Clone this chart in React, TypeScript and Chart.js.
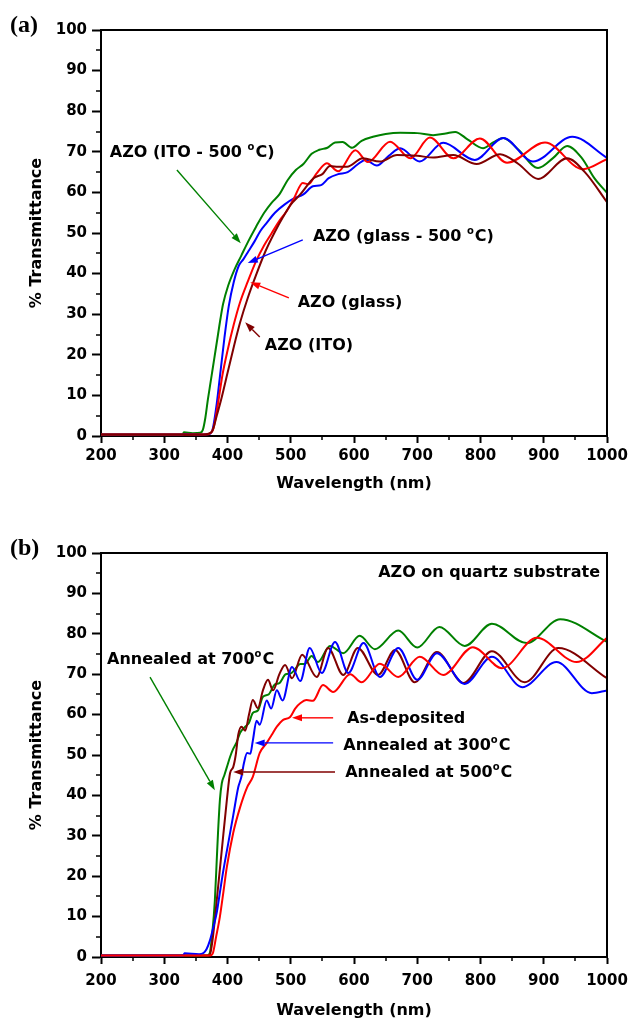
import React, { useEffect, useRef } from 'react';
import { Chart, registerables } from 'chart.js';

Chart.register(...registerables);

const FONT = '"DejaVu Sans", "Liberation Sans", Arial, sans-serif';
const SERIF = '"Liberation Serif", "Times New Roman", serif';

const GREEN = '#008000';
const RED = '#ff0000';
const BLUE = '#0000ff';
const BROWN = '#800000';

// Axes
const X_MIN = 200;
const X_MAX = 1000;
const X_STEP = 100;
const X_MINOR = 50;
const Y_MIN = 0;
const Y_MAX = 100;
const Y_STEP = 10;
const Y_MINOR = 5;
const X_TITLE = 'Wavelength (nm)';
const Y_TITLE = '% Transmittance';

// ---------- Panel (a) ----------
const aIto500Wl = [200, 300, 329, 331, 345, 357, 361, 365, 369, 373, 377, 381, 385, 389, 393, 401, 411, 422, 433, 445, 458, 470, 482, 495, 508, 520, 533, 545, 558, 570, 582, 597, 612, 630, 650, 673, 700, 725, 745, 760, 780, 804, 820, 836, 860, 891, 915, 937, 960, 980, 1000];
const aIto500T = [0.4, 0.4, 0.4, 0.9, 0.7, 0.8, 1.5, 4.5, 9, 13, 17, 21, 25, 29, 32.5, 37, 41, 44.5, 48, 51.5, 55, 57.5, 59.5, 63, 65.5, 67, 69.5, 70.5, 71, 72.3, 72.4, 71, 72.7, 73.7, 74.4, 74.7, 74.6, 74.1, 74.5, 74.9, 73, 70.9, 72.3, 73.4, 70.5, 66, 68.5, 71.4, 68.5, 63.5, 59.9];

const aGlass500Wl = [200, 300, 330, 332, 360, 372, 377, 383, 389, 395, 402, 410, 418, 425, 433, 443, 452, 462, 475, 490, 505, 520, 535, 548, 560, 575, 590, 605, 618, 636, 655, 673, 704, 741, 791, 836, 883, 945, 1000];
const aGlass500T = [0.4, 0.4, 0.4, 0.5, 0.4, 0.5, 2, 8, 16, 24, 32, 38, 42, 43.5, 45.5, 48, 50.5, 52.5, 55, 57, 58.5, 59.5, 61.5, 61.8, 63.5, 64.5, 65, 66.8, 68, 66.6, 69, 70.9, 67.6, 72.2, 68, 73.4, 67.6, 73.7, 68.5];

const aGlassWl = [200, 300, 365, 372, 378, 385, 392, 400, 410, 420, 432, 445, 458, 470, 482, 494, 505, 519, 528, 540, 557, 575, 602, 622, 657, 689, 720, 757, 799, 842, 902, 962, 1000];
const aGlassT = [0.4, 0.4, 0.4, 0.6, 2, 8, 15, 21, 27.5, 33, 38, 43, 47, 50, 53, 55.5, 58.5, 62.3, 62, 64.5, 67.2, 65.2, 70.4, 67.5, 72.5, 68.4, 73.5, 68.4, 73.3, 67.3, 72.3, 65.7, 68.2];

const aItoWl = [200, 300, 362, 370, 376, 383, 390, 400, 410, 420, 432, 446, 460, 474, 488, 500, 515, 536, 550, 562, 575, 589, 614, 641, 668, 700, 725, 757, 794, 831, 860, 891, 937, 965, 1000];
const aItoT = [0.4, 0.4, 0.4, 0.6, 1.2, 5, 9, 15.5, 22, 28, 34, 40, 45.5, 50, 54, 57, 59.5, 63.5, 64.5, 66.5, 66.3, 66.3, 68.4, 67.6, 69.2, 69, 68.6, 69.2, 67, 69.4, 67, 63.3, 68.4, 65, 57.6];

// ---------- Panel (b) ----------
const bAsDepWl = [200, 300, 373, 377, 382, 388, 393, 399, 409, 420, 431, 440, 451, 462, 470, 478, 488, 499, 507, 515, 525, 535, 551, 567, 594, 612, 641, 670, 704, 741, 788, 834, 889, 952, 1000];
const bAsDepT = [0.4, 0.4, 0.4, 1, 5, 10, 15.5, 22.3, 30.7, 37.1, 42, 44.6, 50.5, 53, 55, 57, 58.7, 59.4, 61.5, 62.8, 63.6, 63.4, 67.3, 65.6, 70, 68, 72.6, 69.3, 74.3, 69.8, 76.7, 71.5, 79, 73, 79];

const b300Wl = [200, 300, 330, 332, 355, 362, 367, 372, 377, 383, 388, 393, 401, 409, 417, 422, 426, 431, 436, 440, 446, 451, 462, 469, 478, 487, 502, 515, 530, 549, 570, 591, 615, 641, 670, 700, 731, 775, 818, 866, 920, 976, 1000];
const b300T = [0.4, 0.4, 0.4, 0.9, 0.7, 1, 2, 4, 7, 11, 16, 21, 28, 35, 42, 44.6, 48, 50.5, 50.3, 53.5, 58.5, 57.5, 63.5, 61.5, 66, 63.5, 71.8, 68.3, 76.5, 70.3, 78, 70.3, 77.7, 69.3, 76.5, 68.6, 75.2, 67.6, 74.3, 66.8, 73, 65.3, 66];

const b500Wl = [200, 300, 370, 373, 377, 383, 391, 399, 404, 409, 413, 417, 422, 428, 434, 440, 448, 456, 464, 472, 482, 491, 502, 518, 541, 559, 583, 606, 638, 665, 696, 731, 773, 818, 870, 923, 1000];
const b500T = [0.4, 0.4, 0.4, 1, 5, 14, 26.5, 38.9, 45.5, 47, 50, 55, 57, 56, 60, 63.6, 61.6, 66, 68.6, 66, 70, 72.3, 69, 74.8, 69.3, 76.5, 69.8, 76.5, 69.8, 76, 68, 75.5, 67.8, 75.7, 68, 76.5, 69];

const b700Wl = [200, 300, 368, 372, 376, 380, 383, 385, 388, 391, 395, 399, 404, 409, 414, 420, 428, 434, 440, 448, 456, 465, 475, 482, 492, 500, 515, 523, 533, 543, 562, 583, 609, 633, 670, 700, 735, 775, 818, 873, 926, 1000];
const b700T = [0.4, 0.4, 0.4, 1, 6, 14, 24, 30.7, 38.9, 43, 45, 47, 49.5, 51.5, 53, 55.5, 57, 58, 60.4, 61, 64.4, 65, 67.5, 67.8, 70, 70.2, 72.5, 72.6, 74.5, 73, 77, 75.2, 79.5, 76.2, 80.8, 76.6, 81.7, 77, 82.5, 77.7, 83.6, 78];

type Seg = { t: string; sup?: boolean };
type Note = { x: number; y: number; parts: Seg[]; align?: 'left' | 'right' };
type Arrow = { from: [number, number]; to: [number, number]; color: string };

// Annotations (in data units: wavelength, transmittance)
const aNotes: Note[] = [
  { x: 214, y: 68.7, parts: [{ t: 'AZO (ITO - 500 ' }, { t: 'o', sup: true }, { t: 'C)' }] },
  { x: 535, y: 48, parts: [{ t: 'AZO (glass - 500 ' }, { t: 'o', sup: true }, { t: 'C)' }] },
  { x: 511, y: 31.8, parts: [{ t: 'AZO (glass)' }] },
  { x: 459, y: 21.2, parts: [{ t: 'AZO (ITO)' }] },
];
const aArrows: Arrow[] = [
  { from: [320, 65.5], to: [421, 47.5], color: GREEN },
  { from: [519, 48.3], to: [432, 42.6], color: BLUE },
  { from: [497, 34], to: [436, 37.9], color: RED },
  { from: [451, 24.4], to: [428, 28], color: BROWN },
];

const bNotes: Note[] = [
  { x: 989, y: 94, parts: [{ t: 'AZO on quartz substrate' }], align: 'right' },
  { x: 209.5, y: 72.5, parts: [{ t: 'Annealed at 700' }, { t: 'o', sup: true }, { t: 'C' }] },
  { x: 589, y: 57.9, parts: [{ t: 'As-deposited' }] },
  { x: 583, y: 51.2, parts: [{ t: 'Annealed at 300' }, { t: 'o', sup: true }, { t: 'C' }] },
  { x: 586, y: 44.6, parts: [{ t: 'Annealed at 500' }, { t: 'o', sup: true }, { t: 'C' }] },
];
const bArrows: Arrow[] = [
  { from: [277.5, 69.3], to: [380, 41.3], color: GREEN },
  { from: [567, 59.2], to: [502, 59.2], color: RED },
  { from: [567, 53], to: [443, 53], color: BLUE },
  { from: [570, 45.8], to: [409, 45.8], color: BROWN },
];

interface Series { name: string; wl: number[]; t: number[]; color: string }
interface PanelCfg {
  label: string;
  labelBaseline: number;
  series: Series[];
  notes: Note[];
  arrows: Arrow[];
  padTop: number;
  xHeight: number;
  xTickPad: number;
  xTitlePad: number;
}

const panelA: PanelCfg = {
  label: '(a)',
  labelBaseline: 32,
  series: [
    { name: 'AZO (ITO)', wl: aItoWl, t: aItoT, color: BROWN },
    { name: 'AZO (glass)', wl: aGlassWl, t: aGlassT, color: RED },
    { name: 'AZO (glass - 500 °C)', wl: aGlass500Wl, t: aGlass500T, color: BLUE },
    { name: 'AZO (ITO - 500 °C)', wl: aIto500Wl, t: aIto500T, color: GREEN },
  ],
  notes: aNotes,
  arrows: aArrows,
  padTop: 30,
  xHeight: 74,
  xTickPad: 4,
  xTitlePad: 17,
};

const panelB: PanelCfg = {
  label: '(b)',
  labelBaseline: 45,
  series: [
    { name: 'As-deposited', wl: bAsDepWl, t: bAsDepT, color: RED },
    { name: 'Annealed at 300°C', wl: b300Wl, t: b300T, color: BLUE },
    { name: 'Annealed at 500°C', wl: b500Wl, t: b500T, color: BROWN },
    { name: 'Annealed at 700°C', wl: b700Wl, t: b700T, color: GREEN },
  ],
  notes: bNotes,
  arrows: bArrows,
  padTop: 43,
  xHeight: 63,
  xTickPad: 8,
  xTitlePad: 0,
};

const NOTE_FONT = `bold 16px ${FONT}`;
const SUP_FONT = `bold 10px ${FONT}`;

function drawNote(ctx: CanvasRenderingContext2D, n: Note, px: number, py: number) {
  let total = 0;
  for (const p of n.parts) {
    ctx.font = p.sup ? SUP_FONT : NOTE_FONT;
    total += ctx.measureText(p.t).width + (p.sup ? 1 : 0);
  }
  let x = n.align === 'right' ? px - total : px;
  ctx.textBaseline = 'alphabetic';
  ctx.textAlign = 'left';
  ctx.fillStyle = '#000';
  for (const p of n.parts) {
    ctx.font = p.sup ? SUP_FONT : NOTE_FONT;
    ctx.fillText(p.t, x, p.sup ? py - 7 : py);
    x += ctx.measureText(p.t).width + (p.sup ? 1 : 0);
  }
}

function drawArrow(ctx: CanvasRenderingContext2D, x1: number, y1: number, x2: number, y2: number, color: string) {
  const ang = Math.atan2(y2 - y1, x2 - x1);
  const hl = 10;
  const hw = 3.5;
  const bx = x2 - hl * Math.cos(ang);
  const by = y2 - hl * Math.sin(ang);
  ctx.strokeStyle = color;
  ctx.fillStyle = color;
  ctx.lineWidth = 1.4;
  ctx.beginPath();
  ctx.moveTo(x1, y1);
  ctx.lineTo(bx, by);
  ctx.stroke();
  ctx.beginPath();
  ctx.moveTo(x2, y2);
  ctx.lineTo(bx + hw * Math.sin(ang), by - hw * Math.cos(ang));
  ctx.lineTo(bx - hw * Math.sin(ang), by + hw * Math.cos(ang));
  ctx.closePath();
  ctx.fill();
}

function makeDecor(cfg: PanelCfg) {
  return {
    id: 'decor',
    afterDatasetsDraw(chart: any) {
      const { ctx, chartArea: ca, scales } = chart;
      const xs = scales.x;
      const ys = scales.y;
      ctx.save();
      // top & right frame
      ctx.strokeStyle = '#000';
      ctx.lineWidth = 2;
      ctx.beginPath();
      ctx.moveTo(ca.left - 1, ca.top);
      ctx.lineTo(ca.right, ca.top);
      ctx.lineTo(ca.right, ca.bottom + 1);
      ctx.stroke();
      // minor ticks
      ctx.lineWidth = 1.5;
      ctx.beginPath();
      for (let v = X_MIN + X_MINOR; v < X_MAX; v += X_STEP) {
        const px = Math.round(xs.getPixelForValue(v));
        ctx.moveTo(px, ca.bottom);
        ctx.lineTo(px, ca.bottom + 4);
      }
      for (let v = Y_MIN + Y_MINOR; v < Y_MAX; v += Y_STEP) {
        const py = Math.round(ys.getPixelForValue(v));
        ctx.moveTo(ca.left, py);
        ctx.lineTo(ca.left - 5, py);
      }
      ctx.stroke();
      // arrows
      for (const a of cfg.arrows) {
        drawArrow(
          ctx,
          xs.getPixelForValue(a.from[0]), ys.getPixelForValue(a.from[1]),
          xs.getPixelForValue(a.to[0]), ys.getPixelForValue(a.to[1]),
          a.color,
        );
      }
      // notes
      for (const n of cfg.notes) {
        drawNote(ctx, n, xs.getPixelForValue(n.x), ys.getPixelForValue(n.y));
      }
      // panel label
      ctx.font = `bold 24px ${SERIF}`;
      ctx.fillStyle = '#000';
      ctx.textAlign = 'left';
      ctx.textBaseline = 'alphabetic';
      ctx.fillText(cfg.label, 10, cfg.labelBaseline);
      ctx.restore();
    },
  };
}

function buildChart(canvas: HTMLCanvasElement, cfg: PanelCfg) {
  const tickFont = { family: FONT, size: 15, weight: 'bold' as const };
  const titleFont = { family: FONT, size: 16, weight: 'bold' as const };
  return new Chart(canvas, {
    type: 'line',
    data: {
      datasets: cfg.series.map((s) => ({
        label: s.name,
        data: s.wl.map((w, i) => ({ x: w, y: s.t[i] })),
        borderColor: s.color,
        backgroundColor: s.color,
        borderWidth: 2,
        pointRadius: 0,
        fill: false,
        cubicInterpolationMode: 'monotone' as const,
      })),
    },
    options: {
      animation: false,
      responsive: false,
      maintainAspectRatio: false,
      layout: { padding: { top: cfg.padTop, right: 24, left: 0, bottom: 0 } },
      plugins: { legend: { display: false }, tooltip: { enabled: false } },
      scales: {
        x: {
          type: 'linear',
          min: X_MIN,
          max: X_MAX,
          ticks: {
            stepSize: X_STEP, color: '#000', font: tickFont, padding: cfg.xTickPad, maxRotation: 0, autoSkip: false,
            callback: (v: number) => String(v),
          },
          grid: { drawOnChartArea: false, drawTicks: true, tickLength: 7, tickWidth: 2, tickColor: '#000' },
          border: { display: true, color: '#000', width: 2 },
          title: { display: true, text: X_TITLE, color: '#000', font: titleFont, padding: { top: 0, bottom: cfg.xTitlePad } },
          afterFit: (s: any) => {
            s.height = cfg.xHeight;
            s.paddingLeft = 0;
            s.paddingRight = 0;
          },
        },
        y: {
          type: 'linear',
          min: Y_MIN,
          max: Y_MAX,
          ticks: {
            stepSize: Y_STEP, color: '#000', font: tickFont, padding: 5, autoSkip: false,
            callback: (v: number) => String(v),
          },
          grid: { drawOnChartArea: false, drawTicks: true, tickLength: 9, tickWidth: 2, tickColor: '#000' },
          border: { display: true, color: '#000', width: 2 },
          title: { display: true, text: Y_TITLE, color: '#000', font: titleFont, padding: { top: 27, bottom: 0 } },
          afterFit: (s: any) => {
            s.width = 101;
            s.paddingTop = 0;
            s.paddingBottom = 0;
          },
        },
      },
    } as any,
    plugins: [makeDecor(cfg)],
  });
}

export default function App() {
  const refA = useRef<HTMLCanvasElement | null>(null);
  const refB = useRef<HTMLCanvasElement | null>(null);

  useEffect(() => {
    const charts: Chart[] = [];
    if (refA.current) charts.push(buildChart(refA.current, panelA));
    if (refB.current) charts.push(buildChart(refB.current, panelB));
    return () => charts.forEach((c) => c.destroy());
  }, []);

  return (
    <div style={{ position: 'absolute', left: 0, top: 0, width: 631, height: 1020, background: '#fff' }}>
      <canvas ref={refA} width={631} height={510} style={{ position: 'absolute', left: 0, top: 0 }} />
      <canvas ref={refB} width={631} height={510} style={{ position: 'absolute', left: 0, top: 510 }} />
    </div>
  );
}
